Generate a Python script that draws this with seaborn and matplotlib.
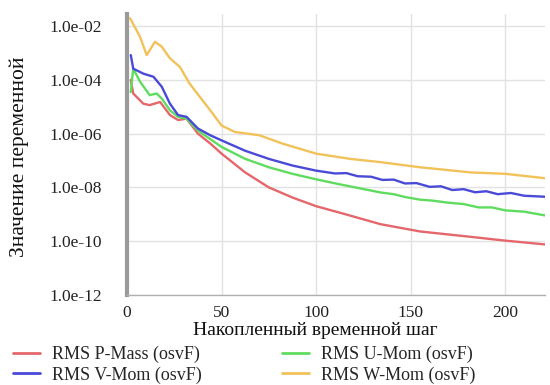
import numpy as np
import pandas as pd
import matplotlib
matplotlib.use("Agg")
import matplotlib.pyplot as plt
import matplotlib.ticker as mticker
from matplotlib.lines import Line2D
import seaborn as sns

series_names = ["RMS P-Mass (osvF)", "RMS U-Mom (osvF)", "RMS V-Mom (osvF)", "RMS W-Mom (osvF)"]
series_colors = ["#e4676b", "#5fdc5f", "#4a4ad8", "#f2c25a"]

p_steps = [2, 2.5, 3.3, 8.6, 12, 17.5, 22.7, 27, 31.5, 37.5, 44, 50, 62.5, 75, 87.5, 100, 112.5, 125, 134,
           155, 178, 200, 221]
p_vals = [1.0e-4, 6.3e-5, 3.1e-5, 1.3e-5, 1.15e-5, 1.5e-5, 4.9e-6, 3.2e-6, 3.6e-6, 1.0e-6, 4.3e-7, 1.8e-7,
          3.6e-8, 1.0e-8, 4.2e-9, 2.0e-9, 1.15e-9, 6.5e-10, 4.3e-10, 2.3e-10, 1.55e-10, 1.05e-10, 7.6e-11]

u_steps = [2, 3.3, 6.9, 12, 15.7, 18.4, 22.7, 27, 31.5, 37.5, 44, 50, 62.5, 75, 87.5, 100, 112.5, 125, 134,
           141, 147, 155, 162, 169, 178, 186, 193, 200, 210, 221]
u_vals = [3.5e-5, 2.6e-4, 8.5e-5, 2.7e-5, 3.1e-5, 2.0e-5, 7.4e-6, 4.2e-6, 3.6e-6, 1.3e-6, 6.3e-7, 3.2e-7,
          1.15e-7, 5.6e-8, 3.2e-8, 2.0e-8, 1.3e-8, 8.7e-9, 6.5e-9, 5.6e-9, 4.4e-9, 3.5e-9, 3.2e-9, 2.75e-9,
          2.4e-9, 1.8e-9, 1.8e-9, 1.4e-9, 1.25e-9, 9.1e-10]

v_steps = [2, 3.3, 8.6, 14, 18.4, 22.7, 27, 31.5, 37.5, 44, 50, 62.5, 75, 87.5, 100, 110, 116, 122, 129,
           135, 141, 147, 153, 160, 166, 172, 178, 184, 190, 196, 203, 210, 221]
v_vals = [8.3e-4, 2.6e-4, 1.7e-4, 1.3e-4, 5.5e-5, 1.3e-5, 4.9e-6, 4.2e-6, 1.55e-6, 8.7e-7, 5.6e-7, 2.3e-7,
          1.15e-7, 6.5e-8, 4.2e-8, 3.3e-8, 3.4e-8, 2.6e-8, 2.5e-8, 1.9e-8, 1.95e-8, 1.4e-8, 1.45e-8, 1.05e-8,
          1.1e-8, 8.0e-9, 8.6e-9, 6.6e-9, 7.2e-9, 5.6e-9, 6.2e-9, 4.9e-9, 4.5e-9]

w_steps = [1.6, 6.9, 10.4, 14.8, 18.4, 22.7, 28, 33, 40, 44, 50, 57, 70, 82, 100, 118, 134, 155, 182, 200, 221]
w_vals = [1.95e-2, 4.0e-3, 8.3e-4, 2.6e-3, 1.7e-3, 6.3e-4, 3.0e-4, 7.4e-5, 1.7e-5, 7.4e-6, 2.0e-6, 1.15e-6,
          8.7e-7, 4.3e-7, 1.8e-7, 1.15e-7, 8.7e-8, 5.6e-8, 3.6e-8, 3.2e-8, 2.2e-8]

y_tick_vals = [1e-2, 1e-4, 1e-6, 1e-8, 1e-10, 1e-12]
y_tick_labels = ["1.0e-02", "1.0e-04", "1.0e-06", "1.0e-08", "1.0e-10", "1.0e-12"]
x_ticks = [0, 50, 100, 150, 200]

x_label = "Накопленный временной шаг"
y_label = "Значение переменной"

frames = []
for name, xs, ys in zip(series_names, [p_steps, u_steps, v_steps, w_steps], [p_vals, u_vals, v_vals, w_vals]):
    frames.append(pd.DataFrame({"step": xs, "value": ys, "series": name}))
df = pd.concat(frames, ignore_index=True)

sns.set_theme(style="white")
plt.rcParams["font.family"] = ["Liberation Serif", "DejaVu Serif"]

fig = plt.figure(figsize=(5.5, 3.85), dpi=100)
ax = fig.add_axes([127 / 550, 1 - 295 / 385, 418 / 550, 281 / 385])

palette = dict(zip(series_names, series_colors))
sns.lineplot(data=df, x="step", y="value", hue="series", palette=palette, ax=ax,
             linewidth=1.7, legend=False, sort=False)

ax.set_yscale("log")
ax.set_ylim(1e-12, 2.8e-2)
ax.set_xlim(0, 221)

ax.set_yticks(y_tick_vals)
ax.set_yticklabels(y_tick_labels)
ax.yaxis.set_minor_locator(mticker.FixedLocator([1e-3, 1e-5, 1e-7, 1e-9, 1e-11]))
ax.yaxis.set_minor_formatter(mticker.NullFormatter())
ax.set_xticks(x_ticks)
ax.xaxis.set_minor_locator(mticker.MultipleLocator(10))

ax.grid(True, which="major", color="#e2e2e2", linewidth=1.0)
ax.set_axisbelow(True)
for s in ["top", "right"]:
    ax.spines[s].set_visible(False)
ax.spines["left"].set_color("#9a9a9a")
ax.spines["left"].set_linewidth(3)
ax.spines["bottom"].set_color("#b0b0b0")
ax.spines["bottom"].set_linewidth(1)

ax.tick_params(axis="both", which="both", direction="out", color="#aaaaaa", labelsize=12.5,
               labelcolor="#222222")
ax.tick_params(axis="y", which="major", length=4, width=1, pad=14)
ax.tick_params(axis="y", which="minor", length=4, width=1)
ax.tick_params(axis="x", which="major", length=3, width=1, pad=4)
ax.tick_params(axis="x", which="minor", length=2, width=1)

ax.set_xlabel(x_label, fontsize=14, color="#111111")
ax.xaxis.set_label_coords((315 - 127) / 418, (295 - 322) / 281)
ax.set_ylabel(y_label, fontsize=15.5, color="#111111")
ax.yaxis.set_label_coords((29 - 127) / 418, (295 - 157) / 281)

order = [0, 2, 1, 3]
handles = [Line2D([0], [0], color=series_colors[i], linewidth=2) for i in order]
fig.legend(handles, [series_names[i] for i in order], ncol=2, loc="upper left",
           bbox_to_anchor=(0.0, 1 - 333 / 385), frameon=False, fontsize=13, handlelength=1.5,
           columnspacing=4.4, labelspacing=0.2, handletextpad=0.7, borderpad=0.2)

fig.savefig("out.png", dpi=100)
